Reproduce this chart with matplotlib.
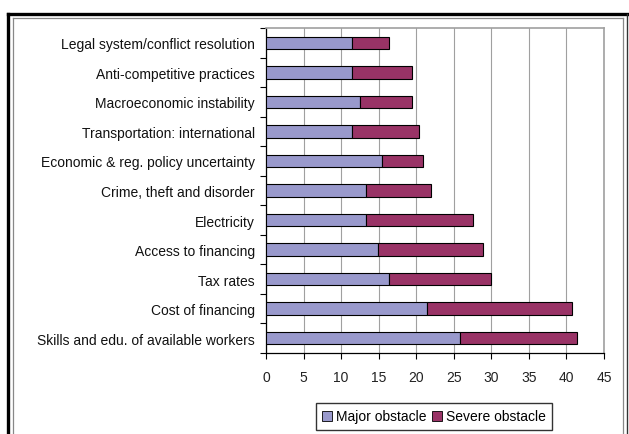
import matplotlib
matplotlib.use("Agg")
import matplotlib.pyplot as plt
import numpy as np
from matplotlib.patches import Rectangle
from matplotlib.lines import Line2D

categories = [
    "Legal system/conflict resolution",
    "Anti-competitive practices",
    "Macroeconomic instability",
    "Transportation: international",
    "Economic & reg. policy uncertainty",
    "Crime, theft and disorder",
    "Electricity",
    "Access to financing",
    "Tax rates",
    "Cost of financing",
    "Skills and edu. of available workers",
]
major = [11.4, 11.4, 12.5, 11.4, 15.5, 13.3, 13.3, 14.9, 16.4, 21.5, 25.8]
severe = [5.0, 8.0, 6.9, 9.0, 5.4, 8.7, 14.2, 14.0, 13.5, 19.3, 15.6]
xticks = [0, 5, 10, 15, 20, 25, 30, 35, 40, 45]

plt.rcParams['font.family'] = ['Liberation Sans', 'DejaVu Sans']

W, H = 629, 435
fig = plt.figure(figsize=(W / 100, H / 100), dpi=100)
fig.patch.set_facecolor('white')

ax = fig.add_axes([266 / W, 1 - 354 / H, (604 - 266) / W, (354 - 29) / H])

y = np.arange(len(categories))[::-1]
c_major = '#9999CC'
c_severe = '#993366'
ax.barh(y, major, height=0.42, color=c_major, edgecolor='black', linewidth=0.8,
        label='Major obstacle', zorder=3)
ax.barh(y, severe, left=major, height=0.42, color=c_severe, edgecolor='black',
        linewidth=0.8, label='Severe obstacle', zorder=3)

ax.set_xlim(0, 45)
ax.set_ylim(-0.5, len(categories) - 0.5)
ax.set_xticks(xticks)
ax.set_xticklabels([str(t) for t in xticks], fontsize=10, color='#222222')
ax.set_yticks(y)
ax.set_yticklabels(categories, fontsize=10, color='#111111')
ax.tick_params(axis='y', length=0, pad=8)
ax.set_yticks(np.arange(-0.5, len(categories), 1.0), minor=True)
ax.tick_params(axis='y', which='minor', length=4, width=0.8, color='black')
ax.tick_params(axis='x', length=4, width=0.8, color='black', pad=8)

ax.grid(axis='x', color='#A0A0A0', linewidth=0.8, zorder=0)
ax.set_axisbelow(True)
for s in ['top', 'right']:
    ax.spines[s].set_color('#A0A0A0')
    ax.spines[s].set_linewidth(1.2)
for s in ['left', 'bottom']:
    ax.spines[s].set_color('black')
    ax.spines[s].set_linewidth(0.9)

leg = fig.legend(handles=[
    Rectangle((0, 0), 1, 1, facecolor=c_major, edgecolor='black', linewidth=0.6),
    Rectangle((0, 0), 1, 1, facecolor=c_severe, edgecolor='black', linewidth=0.6)],
    labels=['Major obstacle', 'Severe obstacle'],
    loc='center', bbox_to_anchor=(434 / W, 1 - 417.5 / H), ncol=2,
    fontsize=10, frameon=True, fancybox=False, handlelength=0.7, handleheight=0.7,
    handletextpad=0.3, columnspacing=0.4, borderpad=0.45, borderaxespad=0)
leg.get_frame().set_edgecolor('black')
leg.get_frame().set_linewidth(1.0)

# document frame
def px_line(x0, y0, x1, y1, **kw):
    fig.add_artist(Line2D([x0 / W, x1 / W], [1 - y0 / H, 1 - y1 / H],
                          transform=fig.transFigure, **kw))

px_line(8, 14.5, 629, 14.5, color='black', linewidth=2.4)
px_line(8, 14.5, 8, 435, color='black', linewidth=2.4)
px_line(13, 18.5, 623, 18.5, color='#888888', linewidth=0.9)
px_line(13, 18.5, 13, 435, color='#888888', linewidth=0.9)
px_line(623, 18.5, 623, 435, color='#888888', linewidth=0.9)
px_line(627, 14.5, 627, 435, color='#333333', linewidth=1.0)

fig.savefig('out.png', dpi=100, facecolor='white')
